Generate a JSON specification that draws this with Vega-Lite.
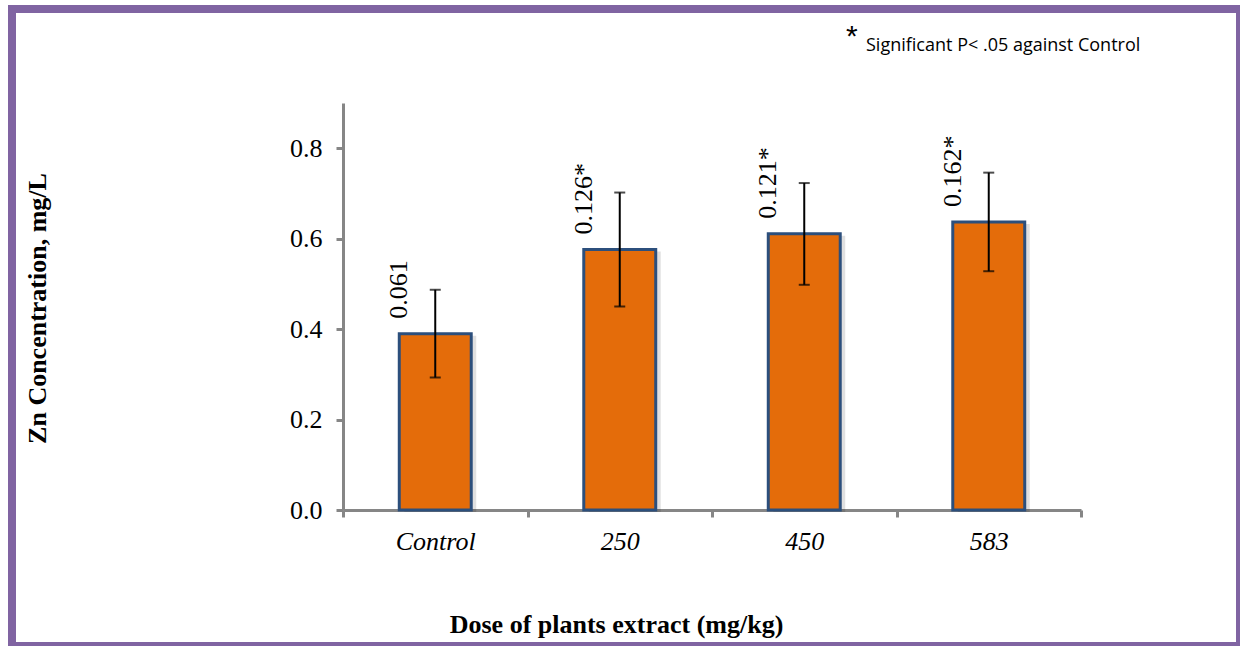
{
  "$schema": "https://vega.github.io/schema/vega-lite/v6.json",
  "width": 1228,
  "height": 637,
  "autosize": {"type": "none"},
  "padding": {"left": 12, "top": 9, "right": 0, "bottom": 0},
  "background": "white",
  "config": {
    "view": {"stroke": "#8064A2", "strokeWidth": 8},
    "axisY": {
      "offset": -331,
      "grid": false,
      "labelFont": "Liberation Serif",
      "labelFontSize": 26,
      "labelColor": "black",
      "labelPadding": 14,
      "domainColor": "#868686",
      "domainWidth": 3,
      "tickColor": "#868686",
      "tickWidth": 3,
      "tickSize": 7,
      "titleFont": "Liberation Serif",
      "titleFontSize": 26,
      "titleFontWeight": "bold",
      "titleColor": "black",
      "titleX": -306,
      "titleY": 299,
      "titleAngle": 270,
      "titleAlign": "center",
      "titleBaseline": "middle"
    }
  },
  "data": {
    "values": [
      {"dose": "Control", "mean": 0.39, "lower": 0.293, "upper": 0.487, "sd": "0.061"},
      {"dose": "250", "mean": 0.576, "lower": 0.45, "upper": 0.702, "sd": "0.126*"},
      {"dose": "450", "mean": 0.611, "lower": 0.498, "upper": 0.723, "sd": "0.121*"},
      {"dose": "583", "mean": 0.637, "lower": 0.528, "upper": 0.746, "sd": "0.162*"}
    ]
  },
  "encoding": {
    "x": {
      "field": "dose",
      "type": "nominal",
      "sort": null,
      "scale": {"range": [331, 1069], "paddingInner": 0, "paddingOuter": 0},
      "axis": {
        "title": "Dose of plants extract (mg/kg)",
        "offset": -136,
        "labelAngle": 0,
        "labelFont": "Liberation Serif",
        "labelFontSize": 26,
        "labelFontStyle": "italic",
        "labelColor": "black",
        "labelPadding": 11,
        "domainColor": "#868686",
        "domainWidth": 3,
        "tickColor": "#868686",
        "tickWidth": 3,
        "tickSize": 7,
        "tickBand": "extent",
        "titleFont": "Liberation Serif",
        "titleFontSize": 26,
        "titleFontWeight": "bold",
        "titleColor": "black",
        "titleX": 604,
        "titleY": 122,
        "titleAlign": "center",
        "titleBaseline": "alphabetic"
      }
    }
  },
  "layer": [
    {
      "mark": {"type": "bar", "width": {"band": 0.39}, "fill": "#000000", "opacity": 0.12, "xOffset": 5, "yOffset": 2},
      "encoding": {
        "y": {
          "field": "mean",
          "type": "quantitative",
          "title": "Zn Concentration, mg/L",
          "scale": {"domain": [0, 0.9], "range": [501, 94], "nice": false, "zero": true},
          "axis": {"values": [0, 0.2, 0.4, 0.6, 0.8], "format": ".1f"}
        }
      }
    },
    {
      "mark": {"type": "bar", "width": {"band": 0.39}, "fill": "#E46C0A", "stroke": "#2C4F7C", "strokeWidth": 3},
      "encoding": {
        "y": {"field": "mean", "type": "quantitative", "title": "Zn Concentration, mg/L", "axis": {"values": [0, 0.2, 0.4, 0.6, 0.8], "format": ".1f"}}
      }
    },
    {
      "mark": {"type": "errorbar", "thickness": 2, "color": "black", "ticks": {"size": 11, "thickness": 2, "color": "black"}},
      "encoding": {
        "y": {"field": "lower", "type": "quantitative", "title": "Zn Concentration, mg/L", "axis": {"values": [0, 0.2, 0.4, 0.6, 0.8], "format": ".1f"}},
        "y2": {"field": "upper"}
      }
    },
    {
      "mark": {"type": "text", "angle": 270, "align": "left", "baseline": "middle", "dx": 15, "dy": -36, "font": "Liberation Serif", "fontSize": 26},
      "encoding": {
        "y": {"field": "mean", "type": "quantitative", "title": "Zn Concentration, mg/L", "axis": {"values": [0, 0.2, 0.4, 0.6, 0.8], "format": ".1f"}},
        "text": {"field": "sd"},
        "color": {
          "datum": "Significant P< .05 against Control",
          "scale": {"range": ["black"]},
          "legend": {
            "orient": "none",
            "legendX": 834,
            "legendY": 28,
            "title": "*",
            "titleOrient": "left",
            "titleFont": "Liberation Sans",
            "titleFontSize": 30,
            "titleFontWeight": "normal",
            "titleColor": "black",
            "titlePadding": -12,
            "titleBaseline": "alphabetic",
            "labelFont": "Open Sans",
            "labelFontSize": 18,
            "labelColor": "black",
            "labelLimit": 500,
            "labelOffset": 2,
            "symbolType": "square",
            "symbolSize": 1,
            "symbolOpacity": 0,
            "symbolStrokeWidth": 0,
            "padding": 0
          }
        }
      }
    }
  ]
}
